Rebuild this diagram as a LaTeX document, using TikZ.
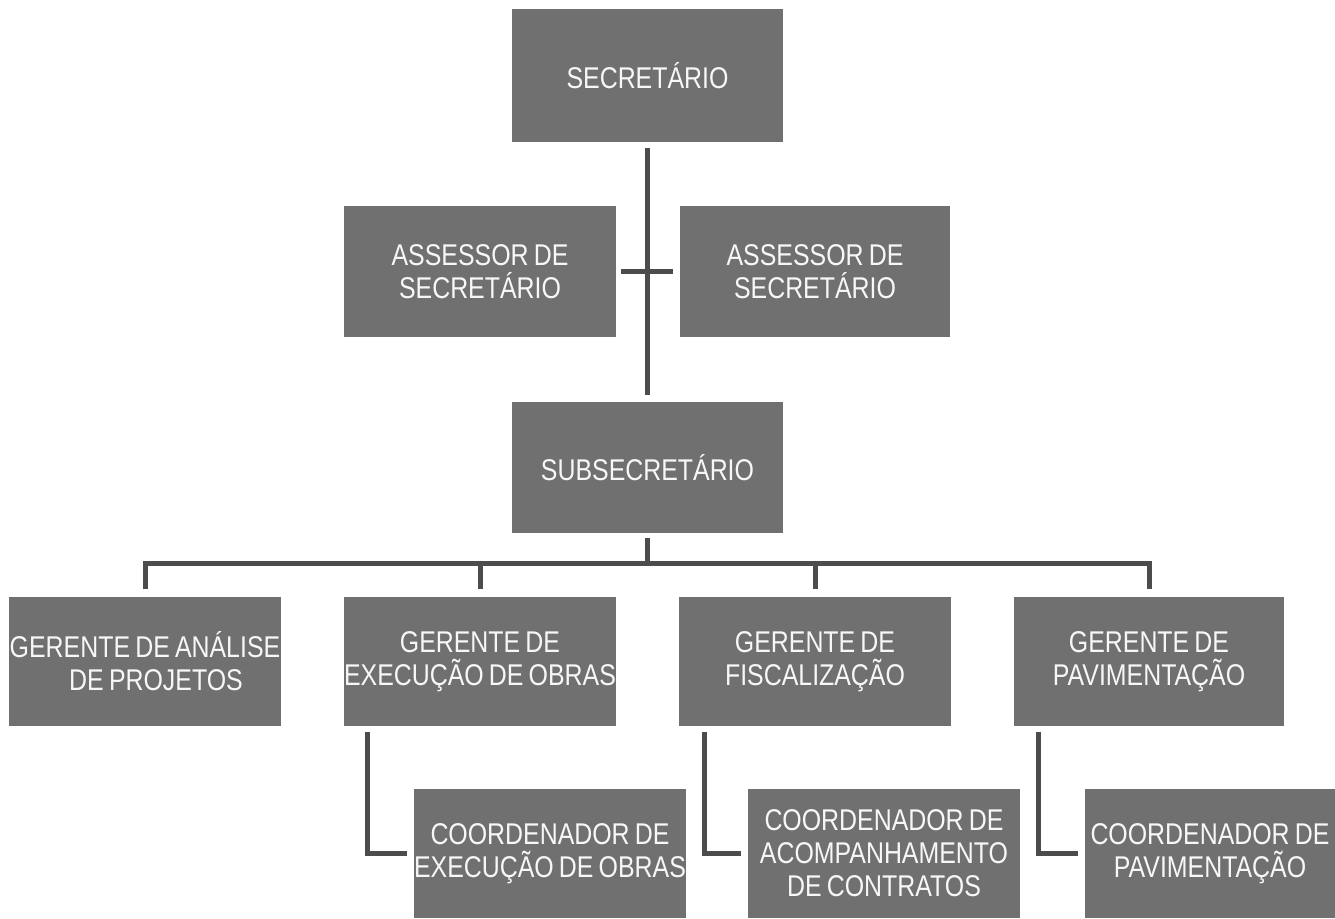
\documentclass[tikz,border=0pt]{standalone}
\usepackage{fontspec}
\setmainfont{Liberation Sans}[FakeStretch=0.83, WordSpace=0.75]
\definecolor{boxgray}{HTML}{707070}
\definecolor{linegray}{HTML}{4C4C4C}
\begin{document}
\begin{tikzpicture}[x=1pt,y=-1pt,
  orgbox/.style={fill=boxgray, text=white!97!black, align=center, inner sep=0pt,
    font=\fontsize{30}{33}\selectfont, minimum height=130pt},
  wbox/.style={minimum width=#1},
  link/.style={draw=linegray, line width=5pt, line cap=butt, line join=miter}]
\useasboundingbox (0,0) rectangle (1335,918);
% top
\node[orgbox, wbox=271pt, minimum height=133pt] (sec) at (647.5,75.5) {SECRETÁRIO};
\node[orgbox, wbox=272pt, minimum height=131pt] (assL) at (480,271.5) {ASSESSOR DE\\SECRETÁRIO};
\node[orgbox, wbox=270pt, minimum height=131pt] (assR) at (815,271.5) {ASSESSOR DE\\SECRETÁRIO};
\node[orgbox, wbox=271pt, minimum height=131pt] (sub) at (647.5,467.5) {SUBSECRETÁRIO};
% gerentes
\node[orgbox, wbox=272pt, minimum height=129pt] (g1) at (145,661.5) {GERENTE DE ANÁLISE\\\hspace*{22pt}DE PROJETOS};
\node[orgbox, wbox=270pt, minimum height=129pt] (g2) at (480,661.5) {GERENTE DE\\EXECUÇÃO DE OBRAS};
\node[orgbox, wbox=272pt, minimum height=129pt] (g3) at (815,661.5) {GERENTE DE\\FISCALIZAÇÃO};
\node[orgbox, wbox=270pt, minimum height=129pt] (g4) at (1149,661.5) {GERENTE DE\\PAVIMENTAÇÃO};
% coordenadores
\node[orgbox, wbox=270pt, minimum height=129pt] (c1) at (550,853.5) {COORDENADOR DE\\EXECUÇÃO DE OBRAS};
\node[orgbox, wbox=272pt, minimum height=129pt] (c2) at (884,853.5) {COORDENADOR DE\\ACOMPANHAMENTO\\DE CONTRATOS};
\node[orgbox, wbox=250pt, minimum height=129pt] (c3) at (1210,853.5) {COORDENADOR DE\\PAVIMENTAÇÃO};
% spine
\draw[link] ([yshift=-6pt]sec.south) -- ([yshift=7pt]sub.north);
\draw[link] ([xshift=5pt]assL.east) -- ([xshift=-7pt]assR.west);
% bus
\coordinate (busC) at ([yshift=-30pt]sub.south);
\coordinate (bus1) at (g1.north |- busC);
\coordinate (bus4) at (g4.north |- busC);
\draw[link] ([yshift=-5pt]sub.south) -- (busC);
\draw[link] ([yshift=8pt]g1.north) -- (bus1) -- (bus4) -- ([yshift=8pt]g4.north);
\draw[link] ([yshift=8pt]g2.north) -- (g2.north |- busC);
\draw[link] ([yshift=8pt]g3.north) -- (g3.north |- busC);
% coordinator links
\draw[link] ([xshift=24pt,yshift=-6pt]g2.south west) |- ([xshift=-7pt]c1.west);
\draw[link] ([xshift=26pt,yshift=-6pt]g3.south west) |- ([xshift=-7pt]c2.west);
\draw[link] ([xshift=25pt,yshift=-6pt]g4.south west) |- ([xshift=-7pt]c3.west);
\end{tikzpicture}
\end{document}
